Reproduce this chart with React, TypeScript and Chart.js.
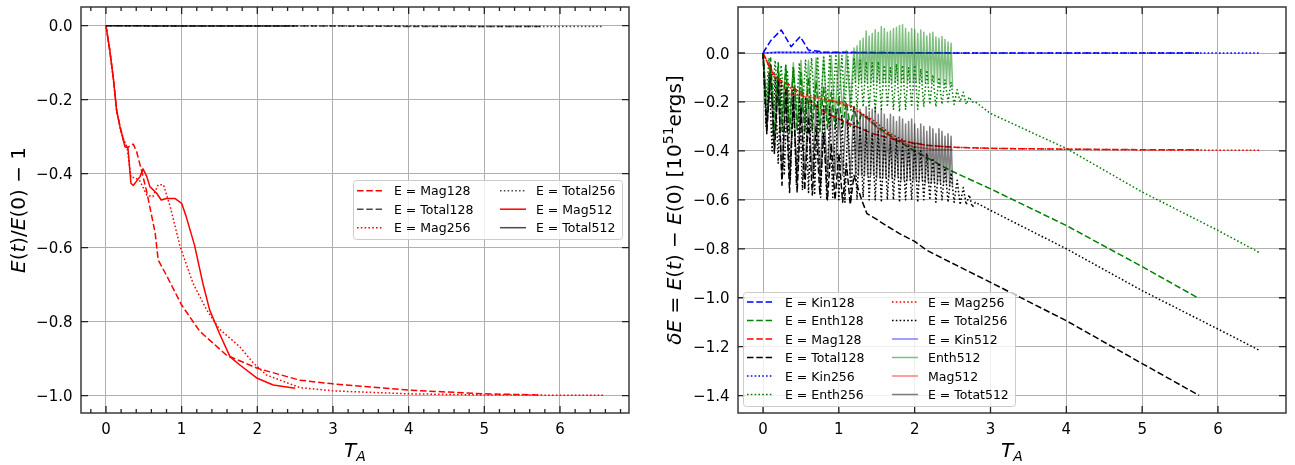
import { useEffect, useRef } from 'react';
import { Chart, registerables } from 'chart.js';
Chart.register(...registerables);

// ---------------- axis ticks ----------------
const X_TICKS = [0, 1, 2, 3, 4, 5, 6];
const X_TICK_LABELS = ['0', '1', '2', '3', '4', '5', '6'];
const YL_TICKS = [0, -0.2, -0.4, -0.6, -0.8, -1.0];
const YL_TICK_LABELS = ['0.0', '\u22120.2', '\u22120.4', '\u22120.6', '\u22120.8', '\u22121.0'];
const YR_TICKS = [0, -0.2, -0.4, -0.6, -0.8, -1.0, -1.2, -1.4];
const YR_TICK_LABELS = ['0.0', '\u22120.2', '\u22120.4', '\u22120.6', '\u22120.8', '\u22121.0', '\u22121.2', '\u22121.4'];

// ---------------- left panel data: E(t)/E(0) - 1 ----------------
const L_MAG128_T = [0, 0.05, 0.1, 0.14, 0.185, 0.23, 0.28, 0.36, 0.405, 0.48, 0.54, 0.6, 0.65, 0.69, 0.8, 1.0, 1.24, 1.59, 2.0, 2.56, 3.0, 4.0, 5.0, 5.75];
const L_MAG128_Y = [0, -0.066, -0.147, -0.228, -0.273, -0.309, -0.33, -0.32, -0.34, -0.4, -0.45, -0.51, -0.56, -0.633, -0.675, -0.755, -0.826, -0.89, -0.926, -0.958, -0.968, -0.985, -0.995, -0.998];
const L_TOTAL128_T = [0, 1, 2, 3, 4, 5, 5.75];
const L_TOTAL128_Y = [0, -0.001, -0.001, -0.001, -0.002, -0.002, -0.002];
const L_MAG256_T = [0, 0.05, 0.1, 0.14, 0.185, 0.23, 0.28, 0.33, 0.38, 0.45, 0.54, 0.62, 0.69, 0.76, 0.85, 0.98, 1.15, 1.33, 1.5, 1.77, 1.94, 2.12, 2.47, 2.56, 3.0, 4.0, 5.0, 6.58];
const L_MAG256_Y = [0, -0.066, -0.147, -0.228, -0.273, -0.305, -0.33, -0.41, -0.41, -0.42, -0.458, -0.462, -0.43, -0.43, -0.49, -0.597, -0.696, -0.768, -0.82, -0.868, -0.91, -0.944, -0.971, -0.978, -0.987, -0.995, -0.998, -0.999];
const L_TOTAL256_T = [0, 1, 2, 3, 4, 5, 6, 6.58];
const L_TOTAL256_Y = [0, -0.001, -0.001, -0.001, -0.001, -0.002, -0.002, -0.002];
const L_MAG512_T = [0, 0.05, 0.1, 0.14, 0.185, 0.25, 0.29, 0.33, 0.36, 0.45, 0.49, 0.54, 0.58, 0.67, 0.73, 0.8, 0.91, 1.0, 1.06, 1.17, 1.28, 1.37, 1.5, 1.64, 1.77, 2.0, 2.21, 2.5];
const L_MAG512_Y = [0, -0.066, -0.147, -0.228, -0.273, -0.327, -0.33, -0.426, -0.432, -0.408, -0.387, -0.408, -0.435, -0.453, -0.471, -0.467, -0.467, -0.48, -0.516, -0.593, -0.696, -0.768, -0.832, -0.895, -0.917, -0.953, -0.971, -0.98];
const L_TOTAL512_T = [0, 1, 2, 2.5];
const L_TOTAL512_Y = [0, -0.001, -0.001, -0.001];

// ---------------- right panel data: dE = E(t) - E(0) ----------------
const T_EARLY = [0, 0.05, 0.1, 0.15, 0.2, 0.25, 0.3, 0.35, 0.4, 0.45, 0.5, 0.55, 0.6, 0.65, 0.7, 0.75, 0.8, 0.85, 0.9, 0.95, 1.0, 1.05, 1.1, 1.15, 1.2];
const T_OSC256 = [0, 0.04, 0.08, 0.12, 0.16, 0.2, 0.24, 0.28, 0.32, 0.36, 0.4, 0.44, 0.48, 0.52, 0.56, 0.6, 0.64, 0.68, 0.72, 0.76, 0.8, 0.84, 0.88, 0.92, 0.96, 1.0, 1.04, 1.08, 1.12, 1.16, 1.2, 1.24, 1.28, 1.32, 1.36, 1.4, 1.44, 1.48, 1.52, 1.56, 1.6, 1.64, 1.68, 1.72, 1.76, 1.8, 1.84, 1.88, 1.92, 1.96, 2.0, 2.04, 2.08, 2.12, 2.16, 2.2, 2.24, 2.28, 2.32, 2.36, 2.4, 2.44, 2.48, 2.52, 2.56, 2.6, 2.64, 2.68, 2.72, 2.76, 2.8];
const T_DENSE512 = [1.22, 1.24, 1.26, 1.28, 1.3, 1.32, 1.34, 1.36, 1.38, 1.4, 1.42, 1.44, 1.46, 1.48, 1.5, 1.52, 1.54, 1.56, 1.58, 1.6, 1.62, 1.64, 1.66, 1.68, 1.7, 1.72, 1.74, 1.76, 1.78, 1.8, 1.82, 1.84, 1.86, 1.88, 1.9, 1.92, 1.94, 1.96, 1.98, 2.0, 2.02, 2.04, 2.06, 2.08, 2.1, 2.12, 2.14, 2.16, 2.18, 2.2, 2.22, 2.24, 2.26, 2.28, 2.3, 2.32, 2.34, 2.36, 2.38, 2.4, 2.42, 2.44, 2.46, 2.48, 2.5];

const R_KIN128_T = [0, 0.1, 0.24, 0.37, 0.49, 0.6, 0.7, 0.8, 1.0, 1.5, 2.0, 3.0, 4.0, 5.0, 5.75];
const R_KIN128_Y = [0, 0.05, 0.094, 0.026, 0.067, 0.012, 0.008, 0.004, 0.003, 0.002, 0.001, 0, 0, 0, 0];

const R_ENTH128_OSC = [0, -0.3, -0.02, -0.33, -0.04, -0.32, -0.05, -0.33, -0.06, -0.32, -0.08, -0.33, -0.1, -0.32, -0.12, -0.32, -0.14, -0.31, -0.16, -0.31, -0.18, -0.3, -0.2, -0.3, -0.22];
const R_ENTH128_TAIL_T = [1.25, 1.3, 1.4, 1.5, 1.6, 1.76, 2.0, 2.47, 3.0, 4.0, 5.0, 5.75];
const R_ENTH128_TAIL_Y = [-0.29, -0.25, -0.27, -0.3, -0.32, -0.356, -0.4, -0.48, -0.555, -0.705, -0.873, -1.003];

const R_MAG128_T = [0, 0.11, 0.22, 0.3, 0.36, 0.47, 0.58, 0.84, 1.15, 1.45, 1.76, 2.16, 2.51, 3.13, 4.0, 5.0, 5.75];
const R_MAG128_Y = [0, -0.076, -0.11, -0.125, -0.131, -0.158, -0.192, -0.247, -0.29, -0.33, -0.356, -0.377, -0.385, -0.39, -0.393, -0.395, -0.395];

const R_TOTAL128_OSC = [0, -0.33, -0.05, -0.41, -0.1, -0.54, -0.14, -0.57, -0.18, -0.57, -0.22, -0.56, -0.26, -0.58, -0.3, -0.58, -0.33, -0.6, -0.37, -0.6, -0.41, -0.61, -0.45, -0.62, -0.5];
const R_TOTAL128_TAIL_T = [1.3, 1.37, 1.5, 1.65, 1.8, 2.0, 2.16, 2.47, 3.0, 4.0, 5.0, 5.75];
const R_TOTAL128_TAIL_Y = [-0.6, -0.656, -0.68, -0.71, -0.738, -0.77, -0.806, -0.855, -0.937, -1.094, -1.269, -1.399];

const R_KIN256_T = [0, 0.2, 0.5, 1.0, 2.0, 3.0, 4.0, 5.0, 6.0, 6.56];
const R_KIN256_Y = [0, 0.002, 0.003, 0.002, 0.001, 0, 0, 0, 0, 0];

const R_ENTH256_OSC = [
  0, -0.18, -0.02, -0.2, -0.03, -0.22, -0.05, -0.23, -0.07, -0.24,
  -0.06, -0.23, -0.04, -0.24, -0.03, -0.23, -0.02, -0.22, -0.015, -0.23,
  -0.01, -0.24, -0.005, -0.23, -0.005, -0.22, -0.01, -0.23, -0.015, -0.24,
  -0.02, -0.23, -0.03, -0.22, -0.035, -0.23, -0.04, -0.24, -0.035, -0.23,
  -0.05, -0.22, -0.06, -0.23, -0.045, -0.24, -0.05, -0.23, -0.06, -0.22,
  -0.05, -0.23, -0.065, -0.22, -0.07, -0.21, -0.09, -0.22, -0.1, -0.21,
  -0.11, -0.2, -0.12, -0.21, -0.15, -0.2, -0.16, -0.21, -0.18, -0.2,
  -0.2,
];
const R_ENTH256_TAIL_T = [3.0, 4.0, 5.0, 6.0, 6.56];
const R_ENTH256_TAIL_Y = [-0.247, -0.39, -0.568, -0.725, -0.818];

const R_MAG256_T = [0, 0.14, 0.31, 0.4, 0.49, 0.58, 0.8, 1.15, 1.45, 1.67, 1.9, 2.16, 2.5, 3.0, 4.0, 5.0, 6.0, 6.56];
const R_MAG256_Y = [0, -0.097, -0.124, -0.158, -0.158, -0.17, -0.186, -0.22, -0.274, -0.329, -0.363, -0.377, -0.385, -0.39, -0.393, -0.396, -0.397, -0.397];

const R_TOTAL256_OSC = [
  0, -0.3, -0.08, -0.4, -0.1, -0.45, -0.12, -0.5, -0.14, -0.52,
  -0.15, -0.54, -0.17, -0.56, -0.18, -0.57, -0.19, -0.58, -0.2, -0.59,
  -0.21, -0.6, -0.22, -0.59, -0.23, -0.6, -0.25, -0.61, -0.27, -0.6,
  -0.28, -0.6, -0.3, -0.59, -0.31, -0.6, -0.33, -0.6, -0.32, -0.61,
  -0.34, -0.6, -0.36, -0.6, -0.35, -0.61, -0.37, -0.6, -0.38, -0.6,
  -0.37, -0.61, -0.4, -0.6, -0.41, -0.6, -0.43, -0.61, -0.45, -0.6,
  -0.47, -0.61, -0.49, -0.61, -0.52, -0.62, -0.55, -0.62, -0.58, -0.63,
  -0.61,
];
const R_TOTAL256_TAIL_T = [3.0, 4.0, 5.0, 6.0, 6.56];
const R_TOTAL256_TAIL_Y = [-0.643, -0.8, -0.971, -1.128, -1.217];

const R_KIN512_T = [0, 0.2, 0.5, 1.0, 2.0, 2.5];
const R_KIN512_Y = [0, 0.004, 0.002, 0.001, 0, 0];

const R_ENTH512_EARLY = [0, -0.2, -0.05, -0.25, -0.06, -0.28, -0.05, -0.3, -0.04, -0.3, -0.03, -0.3, -0.03, -0.3, -0.02, -0.3, -0.02, -0.28, -0.01, -0.27, 0, -0.25, 0.01, -0.22, 0.02];
const R_ENTH512_DENSE = [
  -0.12, 0.03, -0.12, 0.05, -0.12, 0.06, -0.12, 0.09, -0.12, 0.07,
  -0.12, 0.08, -0.12, 0.095, -0.12, 0.085, -0.12, 0.108, -0.12, 0.1,
  -0.12, 0.085, -0.12, 0.09, -0.12, 0.1, -0.12, 0.105, -0.12, 0.112,
  -0.12, 0.115, -0.12, 0.1, -0.12, 0.085, -0.12, 0.1, -0.12, 0.095,
  -0.12, 0.08, -0.12, 0.094, -0.12, 0.085, -0.12, 0.07, -0.12, 0.08,
  -0.12, 0.085, -0.12, 0.065, -0.12, 0.06, -0.13, 0.067, -0.13, 0.055,
  -0.13, 0.045, -0.13, 0.04, -0.14,
];

const R_MAG512_T = [0, 0.14, 0.33, 0.42, 0.58, 0.84, 1.02, 1.19, 1.37, 1.54, 1.76, 1.98, 2.25, 2.5];
const R_MAG512_Y = [0, -0.083, -0.165, -0.172, -0.179, -0.192, -0.2, -0.22, -0.267, -0.315, -0.356, -0.383, -0.394, -0.394];

const R_TOTAL512_EARLY = [0, -0.3, -0.1, -0.4, -0.12, -0.5, -0.15, -0.52, -0.17, -0.52, -0.19, -0.5, -0.2, -0.5, -0.21, -0.5, -0.22, -0.5, -0.22, -0.5, -0.23, -0.5, -0.23, -0.5, -0.22];
const R_TOTAL512_DENSE = [
  -0.5, -0.24, -0.5, -0.23, -0.5, -0.25, -0.5, -0.22, -0.5, -0.24,
  -0.5, -0.23, -0.5, -0.22, -0.51, -0.25, -0.51, -0.23, -0.51, -0.25,
  -0.51, -0.27, -0.51, -0.25, -0.51, -0.26, -0.51, -0.28, -0.51, -0.26,
  -0.52, -0.27, -0.52, -0.29, -0.52, -0.28, -0.52, -0.27, -0.52, -0.29,
  -0.52, -0.31, -0.52, -0.29, -0.52, -0.3, -0.53, -0.32, -0.53, -0.3,
  -0.53, -0.31, -0.53, -0.33, -0.53, -0.31, -0.53, -0.32, -0.53, -0.34,
  -0.53, -0.33, -0.54, -0.34, -0.54,
];

const LEFT_LABELS = ['E = Mag128', 'E = Total128', 'E = Mag256', 'E = Total256', 'E = Mag512', 'E = Total512'];
const RIGHT_LABELS = ['E = Kin128', 'E = Enth128', 'E = Mag128', 'E = Total128', 'E = Kin256', 'E = Enth256', 'E = Mag256', 'E = Total256', 'E = Kin512', 'Enth512', 'Mag512', 'E = Totat512'];

// ---------------- styling ----------------
const FAM = '"DejaVu Sans", sans-serif';
const DASH = [6.5, 2.8];
const DOT = [1.6, 2.2];
const SOLID: number[] = [];
const RED = '#ff0000';
const GREEN = '#008000';
const BLUE = '#0000ff';
const BLACK = '#000000';
const GREY7 = 'rgba(0,0,0,0.7)';

const mk = (t: number[], y: number[]) => t.map((x, i) => ({ x, y: y[i] }));

function ds(label: string, data: { x: number; y: number }[], color: string, dash: number[], i: number) {
  return {
    label,
    data,
    borderColor: color,
    backgroundColor: color,
    borderDash: dash,
    borderWidth: 1.5,
    borderJoinStyle: 'round',
    borderCapStyle: 'butt',
    pointRadius: 0,
    pointHoverRadius: 0,
    fill: false,
    tension: 0,
    order: 100 - i,
  };
}

type Seg = { t: string; it?: boolean; sup?: boolean; sub?: boolean };

function drawRich(ctx: CanvasRenderingContext2D, segs: Seg[], size: number, cx: number, cy: number, rotate: boolean) {
  const fontFor = (s: Seg) => `${s.it ? 'italic ' : ''}${s.sup || s.sub ? size * 0.7 : size}px ${FAM}`;
  let w = 0;
  const ws = segs.map((s) => {
    ctx.font = fontFor(s);
    const m = ctx.measureText(s.t).width;
    w += m;
    return m;
  });
  ctx.save();
  ctx.translate(cx, cy);
  if (rotate) ctx.rotate(-Math.PI / 2);
  ctx.textAlign = 'left';
  ctx.textBaseline = 'alphabetic';
  ctx.fillStyle = '#000';
  let x = -w / 2;
  segs.forEach((s, i) => {
    ctx.font = fontFor(s);
    const dy = s.sup ? -size * 0.42 : s.sub ? size * 0.22 : 0;
    ctx.fillText(s.t, x, dy);
    x += ws[i];
  });
  ctx.restore();
}

type DecorCfg = {
  id: string;
  yTicks: number[];
  yLabels: string[];
  xMinor: number[];
  yTitle: Seg[];
  yTitleX: number;
  legend: { box: [number, number, number, number]; cols: number[][]; lineX: number[]; textX: number[]; rowY: number[]; labels: string[] };
};

function makeDecor(cfg: DecorCfg) {
  return {
    id: cfg.id,
    afterDraw(chart: any) {
      const ctx: CanvasRenderingContext2D = chart.ctx;
      const a = chart.chartArea;
      const xs = chart.scales.x;
      const ys = chart.scales.y;
      ctx.save();
      // frame
      ctx.setLineDash([]);
      ctx.strokeStyle = '#3a3a3a';
      ctx.lineWidth = 1.5;
      ctx.strokeRect(a.left, a.top, a.right - a.left, a.bottom - a.top);
      // ticks (inward)
      ctx.lineWidth = 1.3;
      ctx.strokeStyle = '#222';
      ctx.beginPath();
      for (const v of X_TICKS) {
        const p = xs.getPixelForValue(v);
        ctx.moveTo(p, a.bottom); ctx.lineTo(p, a.bottom - 7);
        ctx.moveTo(p, a.top); ctx.lineTo(p, a.top + 7);
      }
      for (const v of cfg.xMinor) {
        const p = xs.getPixelForValue(v);
        ctx.moveTo(p, a.bottom); ctx.lineTo(p, a.bottom - 4);
        ctx.moveTo(p, a.top); ctx.lineTo(p, a.top + 4);
      }
      for (const v of cfg.yTicks) {
        const p = ys.getPixelForValue(v);
        ctx.moveTo(a.left, p); ctx.lineTo(a.left + 7, p);
        ctx.moveTo(a.right, p); ctx.lineTo(a.right - 7, p);
      }
      ctx.stroke();
      // tick labels
      ctx.fillStyle = '#000';
      ctx.font = `15px ${FAM}`;
      ctx.textBaseline = 'alphabetic';
      ctx.textAlign = 'center';
      X_TICKS.forEach((v, i) => {
        ctx.fillText(X_TICK_LABELS[i], xs.getPixelForValue(v), a.bottom + 20.5);
      });
      ctx.textAlign = 'right';
      cfg.yTicks.forEach((v, i) => {
        ctx.fillText(cfg.yLabels[i], a.left - 8.5, ys.getPixelForValue(v) + 5.5);
      });
      // axis titles
      drawRich(ctx, [{ t: 'T', it: true }, { t: 'A', it: true, sub: true }], 20, (a.left + a.right) / 2, a.bottom + 43.5, false);
      drawRich(ctx, cfg.yTitle, 20, cfg.yTitleX, (a.top + a.bottom) / 2, true);
      // legend
      const L = cfg.legend;
      const [bx0, by0, bx1, by1] = L.box;
      ctx.beginPath();
      (ctx as any).roundRect(bx0 + 0.5, by0 + 0.5, bx1 - bx0, by1 - by0, 3);
      ctx.fillStyle = 'rgba(255,255,255,0.8)';
      ctx.fill();
      ctx.strokeStyle = '#cccccc';
      ctx.lineWidth = 1;
      ctx.stroke();
      const dsets = chart.data.datasets;
      L.cols.forEach((col, c) => {
        col.forEach((di, r) => {
          const d = dsets[di];
          const y = L.rowY[r];
          ctx.beginPath();
          ctx.strokeStyle = d.borderColor;
          ctx.lineWidth = 1.5;
          ctx.lineCap = 'butt';
          ctx.setLineDash(d.borderDash);
          ctx.moveTo(L.lineX[c], y);
          ctx.lineTo(L.lineX[c] + 26, y);
          ctx.stroke();
          ctx.setLineDash([]);
          ctx.fillStyle = '#000';
          ctx.font = `12.5px ${FAM}`;
          ctx.textAlign = 'left';
          ctx.fillText(L.labels[di], L.textX[c], y + 4.5);
        });
      });
      ctx.restore();
    },
  };
}

function scaleOpts(min: number, max: number, ticks: number[], isX: boolean, size: number) {
  return {
    type: 'linear',
    min,
    max,
    afterBuildTicks: (s: any) => {
      s.ticks = ticks.map((v) => ({ value: v }));
    },
    afterFit: (s: any) => {
      if (isX) s.height = size; else s.width = size;
      s.paddingLeft = 0; s.paddingRight = 0; s.paddingTop = 0; s.paddingBottom = 0;
    },
    ticks: { display: false },
    grid: { color: '#b0b0b0', lineWidth: 1, drawTicks: false },
    border: { display: false },
  };
}

const minorX: number[] = [];
for (let k = -1; k <= 34; k++) {
  if (k % 5 !== 0) minorX.push(k * 0.2);
}

function leftConfig(): any {
  const datasets = [
    ds(LEFT_LABELS[0], mk(L_MAG128_T, L_MAG128_Y), RED, DASH, 0),
    ds(LEFT_LABELS[1], mk(L_TOTAL128_T, L_TOTAL128_Y), GREY7, DASH, 1),
    ds(LEFT_LABELS[2], mk(L_MAG256_T, L_MAG256_Y), RED, DOT, 2),
    ds(LEFT_LABELS[3], mk(L_TOTAL256_T, L_TOTAL256_Y), GREY7, DOT, 3),
    ds(LEFT_LABELS[4], mk(L_MAG512_T, L_MAG512_Y), RED, SOLID, 4),
    ds(LEFT_LABELS[5], mk(L_TOTAL512_T, L_TOTAL512_Y), GREY7, SOLID, 5),
  ];
  return {
    type: 'line',
    data: { datasets },
    options: {
      responsive: false,
      animation: false,
      events: [],
      layout: { padding: { left: 0, right: 1295 - 629, top: 7, bottom: 0 } },
      plugins: { legend: { display: false }, tooltip: { enabled: false } },
      scales: {
        x: scaleOpts(-0.33, 6.912, X_TICKS, true, 52),
        y: scaleOpts(-1.0468, 0.0505, YL_TICKS, false, 81),
      },
    },
    plugins: [
      makeDecor({
        id: 'decorLeft',
        yTicks: YL_TICKS,
        yLabels: YL_TICK_LABELS,
        xMinor: minorX,
        yTitle: [
          { t: 'E', it: true }, { t: '(' }, { t: 't', it: true }, { t: ')/' },
          { t: 'E', it: true }, { t: '(0) \u2212 1' },
        ],
        yTitleX: 25,
        legend: {
          box: [353, 180, 622, 239],
          cols: [[0, 1, 2], [3, 4, 5]],
          lineX: [357, 500],
          textX: [394, 536],
          rowY: [190.7, 209.2, 227.7],
          labels: LEFT_LABELS,
        },
      }),
    ],
  };
}

function rightConfig(): any {
  const datasets = [
    ds(RIGHT_LABELS[0], mk(R_KIN128_T, R_KIN128_Y), BLUE, DASH, 0),
    ds(RIGHT_LABELS[1], mk(T_EARLY, R_ENTH128_OSC).concat(mk(R_ENTH128_TAIL_T, R_ENTH128_TAIL_Y)), GREEN, DASH, 1),
    ds(RIGHT_LABELS[2], mk(R_MAG128_T, R_MAG128_Y), RED, DASH, 2),
    ds(RIGHT_LABELS[3], mk(T_EARLY, R_TOTAL128_OSC).concat(mk(R_TOTAL128_TAIL_T, R_TOTAL128_TAIL_Y)), BLACK, DASH, 3),
    ds(RIGHT_LABELS[4], mk(R_KIN256_T, R_KIN256_Y), BLUE, DOT, 4),
    ds(RIGHT_LABELS[5], mk(T_OSC256, R_ENTH256_OSC).concat(mk(R_ENTH256_TAIL_T, R_ENTH256_TAIL_Y)), GREEN, DOT, 5),
    ds(RIGHT_LABELS[6], mk(R_MAG256_T, R_MAG256_Y), RED, DOT, 6),
    ds(RIGHT_LABELS[7], mk(T_OSC256, R_TOTAL256_OSC).concat(mk(R_TOTAL256_TAIL_T, R_TOTAL256_TAIL_Y)), BLACK, DOT, 7),
    ds(RIGHT_LABELS[8], mk(R_KIN512_T, R_KIN512_Y), 'rgba(0,0,255,0.5)', SOLID, 8),
    ds(RIGHT_LABELS[9], mk(T_EARLY, R_ENTH512_EARLY).concat(mk(T_DENSE512, R_ENTH512_DENSE)), 'rgba(0,128,0,0.5)', SOLID, 9),
    ds(RIGHT_LABELS[10], mk(R_MAG512_T, R_MAG512_Y), 'rgba(255,0,0,0.5)', SOLID, 10),
    ds(RIGHT_LABELS[11], mk(T_EARLY, R_TOTAL512_EARLY).concat(mk(T_DENSE512, R_TOTAL512_DENSE)), 'rgba(0,0,0,0.5)', SOLID, 11),
  ];
  return {
    type: 'line',
    data: { datasets },
    options: {
      responsive: false,
      animation: false,
      events: [],
      layout: { padding: { left: 737, right: 1295 - 1286, top: 7, bottom: 0 } },
      plugins: { legend: { display: false }, tooltip: { enabled: false } },
      scales: {
        x: scaleOpts(-0.33, 6.897, X_TICKS, true, 52),
        y: scaleOpts(-1.471, 0.188, YR_TICKS, false, 1),
      },
    },
    plugins: [
      makeDecor({
        id: 'decorRight',
        yTicks: YR_TICKS,
        yLabels: YR_TICK_LABELS,
        xMinor: [],
        yTitle: [
          { t: '\u03b4E', it: true }, { t: ' = ' }, { t: 'E', it: true }, { t: '(' }, { t: 't', it: true },
          { t: ') \u2212 ' }, { t: 'E', it: true }, { t: '(0) [10' }, { t: '51', sup: true }, { t: 'ergs]' },
        ],
        yTitleX: 681,
        legend: {
          box: [743, 292, 1015, 406],
          cols: [[0, 1, 2, 3, 4, 5], [6, 7, 8, 9, 10, 11]],
          lineX: [747, 892],
          textX: [785, 928],
          rowY: [302, 320.5, 339, 357.5, 376, 394.5],
          labels: RIGHT_LABELS,
        },
      }),
    ],
  };
}

export default function App() {
  const leftRef = useRef<HTMLCanvasElement>(null);
  const rightRef = useRef<HTMLCanvasElement>(null);
  useEffect(() => {
    const c1 = new Chart(leftRef.current as HTMLCanvasElement, leftConfig());
    const c2 = new Chart(rightRef.current as HTMLCanvasElement, rightConfig());
    return () => {
      c1.destroy();
      c2.destroy();
    };
  }, []);
  return (
    <div style={{ position: 'fixed', left: 0, top: 0, width: 1295, height: 465, background: '#fff' }}>
      <canvas ref={leftRef} width={1295} height={465} style={{ position: 'absolute', left: 0, top: 0 }} />
      <canvas ref={rightRef} width={1295} height={465} style={{ position: 'absolute', left: 0, top: 0 }} />
    </div>
  );
}
